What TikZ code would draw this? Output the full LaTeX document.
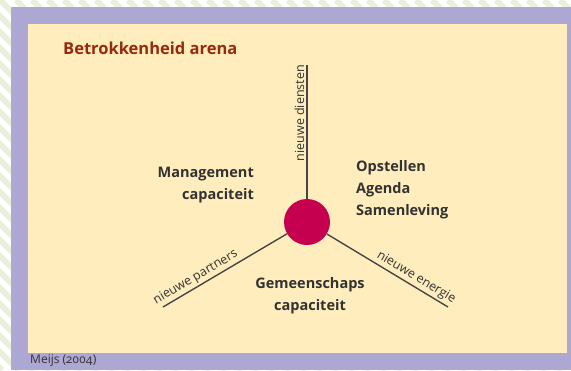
\documentclass[tikz,border=0pt]{standalone}
\usepackage{fontspec}
\setmainfont{Open Sans}
\definecolor{framec}{RGB}{173,167,212}
\definecolor{creamc}{RGB}{255,237,189}
\definecolor{stripec}{RGB}{234,239,220}
\definecolor{hubc}{RGB}{197,0,79}
\definecolor{titlec}{RGB}{150,42,14}
\definecolor{txtc}{RGB}{50,50,50}
\definecolor{linec}{RGB}{70,70,70}
\tikzset{
  stripe/.style={draw=stripec, line width=6pt},
  hubstyle/.style={circle, fill=hubc, minimum size=46pt, inner sep=0pt},
  spoke/.style={draw=linec, line width=1.4pt},
  lbl/.style={text=txtc, font=\fontsize{12.5}{14}\selectfont, inner sep=2pt},
  bodytxt/.style={text=txtc, font=\fontsize{14.5}{22}\selectfont\bfseries, inner sep=0pt},
  titletxt/.style={text=titlec, font=\fontsize{16.5}{20}\selectfont\bfseries, inner sep=0pt},
  srctxt/.style={text=txtc, font=\fontsize{12}{14}\selectfont\addfontfeatures{Numbers=OldStyle}, inner sep=0pt}
}
\begin{document}
\begin{tikzpicture}[x=1pt,y=-1pt]
\useasboundingbox (0,0) rectangle (571,370);
\fill[white] (0,0) rectangle (571,370);
\begin{scope}
\clip (0,0) rectangle (571,370);
\foreach \i in {-400,-384,...,600} \draw[stripe] (\i,0) -- ({\i+370},370);
\end{scope}
\fill[framec] (11,7) rectangle (571,370);
\fill[creamc] (28,24) rectangle (567,353);

\node[titletxt, anchor=west] (title) at (63,48) {Betrokkenheid arena};
\node[srctxt, anchor=west] (src) at (30,361) {Meijs (2004)};

\node[hubstyle] (hub) at (307,222) {};
\coordinate (top) at (307,65);
\coordinate (left) at (163,307);
\coordinate (right) at (448,307);

\draw[spoke] (hub) -- (top) node[lbl, pos=0.64, sloped, above] {nieuwe diensten};
\draw[spoke] (left) -- (hub) node[lbl, pos=0.3, sloped, above] {nieuwe partners};
\draw[spoke] (hub) -- (right) node[lbl, pos=0.7, sloped, above] {nieuwe energie};

\node[bodytxt, align=right, anchor=east] (mgmt) at (254,185) {Management\\capaciteit};
\node[bodytxt, align=left, anchor=west] (agenda) at (356,190) {Opstellen\\Agenda\\Samenleving};
\node[bodytxt, align=center] (gem) at (310,296) {Gemeenschaps\\capaciteit};
\end{tikzpicture}
\end{document}
